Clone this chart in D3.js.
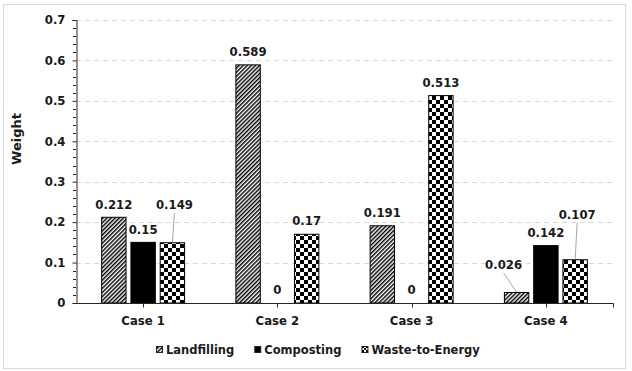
<!DOCTYPE html>
<html>
<head>
<meta charset="utf-8">
<script src="https://cdn.jsdelivr.net/npm/d3@7"></script>
<style>
  html, body { margin: 0; padding: 0; background: #fff; }
  svg { display: block; font-family: "DejaVu Sans", Verdana, sans-serif; }
</style>
</head>
<body>
<svg id="chart" width="632" height="371"></svg>
<script>
const categories = ["Case 1", "Case 2", "Case 3", "Case 4"];
const seriesNames = ["Landfilling", "Composting", "Waste-to-Energy"];
const landfilling = [0.212, 0.589, 0.191, 0.026];
const composting = [0.15, 0, 0, 0.142];
const wasteToEnergy = [0.149, 0.17, 0.513, 0.107];
const yTicks = [0, 0.1, 0.2, 0.3, 0.4, 0.5, 0.6, 0.7];
const yLabels = ["0", "0.1", "0.2", "0.3", "0.4", "0.5", "0.6", "0.7"];
const labelNudges = { "0-2": [2, -25], "3-0": [-13, -14.5], "3-2": [2, -32] };

const seriesValues = [landfilling, composting, wasteToEnergy];
const fills = ["url(#hatch)", "#000", "url(#checker)"];

const svg = d3.select("#chart");
const textColor = "#1a1a1a";

// patterns
const defs = svg.append("defs");
const hatch = defs.append("pattern").attr("id", "hatch").attr("patternUnits", "userSpaceOnUse")
  .attr("width", 2.9).attr("height", 2.9).attr("patternTransform", "rotate(45)");
hatch.append("rect").attr("width", 2.9).attr("height", 2.9).attr("fill", "#fff");
hatch.append("rect").attr("width", 1.45).attr("height", 2.9).attr("fill", "#000");
const checker = defs.append("pattern").attr("id", "checker").attr("patternUnits", "userSpaceOnUse")
  .attr("width", 8).attr("height", 8);
checker.append("rect").attr("width", 8).attr("height", 8).attr("fill", "#fff");
checker.append("rect").attr("width", 4).attr("height", 4).attr("fill", "#000");
checker.append("rect").attr("x", 4).attr("y", 4).attr("width", 4).attr("height", 4).attr("fill", "#000");
const checkerSmall = defs.append("pattern").attr("id", "checkerSmall").attr("patternUnits", "userSpaceOnUse")
  .attr("width", 4).attr("height", 4);
checkerSmall.append("rect").attr("width", 4).attr("height", 4).attr("fill", "#fff");
checkerSmall.append("rect").attr("width", 2).attr("height", 2).attr("fill", "#000");
checkerSmall.append("rect").attr("x", 2).attr("y", 2).attr("width", 2).attr("height", 2).attr("fill", "#000");

// outer border
svg.append("rect").attr("x", 3.5).attr("y", 4.5).attr("width", 622).attr("height", 364)
  .attr("fill", "#fff").attr("stroke", "#d9d9d9").attr("stroke-width", 1);

const plotLeft = 76, plotRight = 613, plotTop = 20, plotBottom = 303;

const x0 = d3.scaleBand().domain(categories).range([plotLeft, plotRight])
  .paddingInner(0.382).paddingOuter(0.191);
const x1 = d3.scaleBand().domain(seriesNames).range([0, x0.bandwidth()]).paddingInner(0.167);
const y = d3.scaleLinear().domain([0, 0.7]).range([plotBottom, plotTop]);

// gridlines
svg.append("g").selectAll("line").data(yTicks.filter(d => d > 0)).join("line")
  .attr("x1", plotLeft).attr("x2", plotRight)
  .attr("y1", d => Math.round(y(d)) + 0.5).attr("y2", d => Math.round(y(d)) + 0.5)
  .attr("stroke", "#d9d9d9").attr("stroke-width", 1).attr("stroke-dasharray", "5,4");

// bars
const bars = [];
seriesValues.forEach((vals, si) => {
  vals.forEach((v, ci) => bars.push({ si, ci, v, cat: categories[ci], name: seriesNames[si] }));
});
svg.append("g").selectAll("rect").data(bars.filter(d => d.v > 0)).join("rect")
  .attr("x", d => x0(d.cat) + x1(d.name))
  .attr("y", d => y(d.v))
  .attr("width", x1.bandwidth())
  .attr("height", d => y(0) - y(d.v))
  .attr("fill", d => fills[d.si])
  .attr("stroke", "#000").attr("stroke-width", 1);

// y axis
const yAxis = d3.axisLeft(y).tickValues(yTicks).tickFormat((d, i) => yLabels[i]).tickSize(4).tickPadding(7);
const gy = svg.append("g").attr("transform", `translate(${plotLeft + 0.5},0)`).call(yAxis);
gy.select(".domain").attr("stroke", "#262626");
gy.selectAll(".tick line").attr("stroke", "#262626");
gy.selectAll(".tick text").attr("fill", textColor).attr("font-size", 11.7).attr("font-weight", "bold")
  .attr("font-family", "DejaVu Sans, Verdana, sans-serif");
// minor ticks
const minor = d3.range(0, 0.7001, 0.02).filter(v => Math.abs(v * 10 - Math.round(v * 10)) > 1e-6);
svg.append("g").selectAll("line").data(minor).join("line")
  .attr("x1", plotLeft - 3).attr("x2", plotLeft)
  .attr("y1", d => Math.round(y(d)) + 0.5).attr("y2", d => Math.round(y(d)) + 0.5)
  .attr("stroke", "#262626").attr("stroke-width", 1);

// x axis
const gx = svg.append("g").attr("transform", `translate(0,${plotBottom + 0.5})`);
gx.append("line").attr("x1", plotLeft).attr("x2", plotRight + 0.5).attr("stroke", "#262626");
const xt = categories.map(c => x0(c) + x0.bandwidth() / 2);
gx.selectAll("line.t").data(xt.concat([plotRight])).join("line").attr("class", "t")
  .attr("x1", d => Math.round(d) + 0.5).attr("x2", d => Math.round(d) + 0.5)
  .attr("y1", 0).attr("y2", 4).attr("stroke", "#262626");
gx.selectAll("text").data(categories).join("text")
  .attr("x", d => x0(d) + x0.bandwidth() / 2).attr("y", 21)
  .attr("text-anchor", "middle").attr("fill", textColor)
  .attr("font-size", 11.7).attr("font-weight", "bold").text(d => d);

// y title
svg.append("text").attr("transform", "translate(21,139) rotate(-90)")
  .attr("text-anchor", "middle").attr("fill", textColor)
  .attr("font-size", 13).attr("font-weight", "bold").text("Weight");

// data labels
const lbl = svg.append("g");
bars.forEach(d => {
  const cx = x0(d.cat) + x1(d.name) + x1.bandwidth() / 2;
  const top = y(d.v);
  const key = d.ci + "-" + d.si;
  const nudge = labelNudges[key] || [0, 0];
  const lx = cx + nudge[0], ly = top - 13 + nudge[1];
  if (labelNudges[key]) {
    lbl.append("line").attr("x1", lx).attr("y1", ly + 8)
      .attr("x2", cx).attr("y2", top - 0.5)
      .attr("stroke", "#a6a6a6").attr("stroke-width", 1);
  }
  lbl.append("text").attr("x", lx).attr("y", ly).attr("dy", "0.36em")
    .attr("text-anchor", "middle").attr("fill", textColor)
    .attr("font-size", 11.7).attr("font-weight", "bold").text(d.v);
});

// legend
const legend = svg.append("g");
const legendFills = ["url(#hatch)", "#000", "url(#checkerSmall)"];
let lx = 156;
seriesNames.forEach((n, i) => {
  legend.append("rect").attr("x", lx + 0.5).attr("y", 346.5).attr("width", 6).attr("height", 6)
    .attr("fill", legendFills[i]).attr("stroke", "#262626").attr("stroke-width", 1);
  const t = legend.append("text").attr("x", lx + 10).attr("y", 354)
    .attr("fill", textColor).attr("font-size", 11.5).attr("font-weight", "bold").text(n);
  lx += 10 + t.node().getComputedTextLength() + 20;
});
</script>
</body>
</html>
